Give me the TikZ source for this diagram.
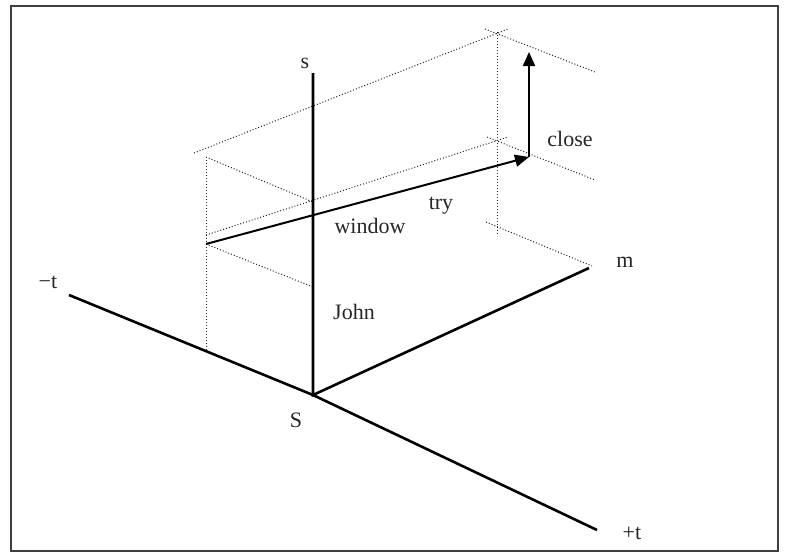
\documentclass[tikz,border=0pt]{standalone}
\usepackage{fontspec}
\setmainfont{Liberation Serif}
\usetikzlibrary{arrows.meta}
\begin{document}
\begin{tikzpicture}[x=1pt,y=-1pt,
  axisline/.style={line width=2.6pt, line join=miter},
  guide/.style={line width=1pt, dash pattern=on 1pt off 2pt, black!85},
  move/.style={line width=2pt, -{Triangle[length=14pt,width=12pt]}},
  lbl/.style={font=\fontsize{22}{26}\selectfont, inner sep=0pt, text=black!85}]
\useasboundingbox (0,0) rectangle (803,557);
\draw[line width=1.5pt, black!75] (11,6) rectangle (778,551);
% axes
\coordinate (S) at (313,395);
\coordinate (sTop) at (313,73);
\coordinate (mEnd) at (589,268);
\coordinate (tNeg) at (69,295);
\coordinate (tPos) at (597,530);
% guide points
\coordinate (bl) at (206,351);
\coordinate (bt) at (206,157);
\coordinate (bm) at (206,235);
\coordinate (A) at (206,244);
\coordinate (s1) at (313,202);
\coordinate (s2) at (313,287);
\coordinate (u0) at (194,153);
\coordinate (u1) at (508,29);
\coordinate (m1) at (508,137);
\coordinate (rT) at (497,32);
\coordinate (rB) at (497,236);
\coordinate (r1a) at (485,29);
\coordinate (r1b) at (595,72);
\coordinate (r2a) at (487,137);
\coordinate (r2b) at (595,180);
\coordinate (r3a) at (486,222);
\coordinate (r3b) at (592,266);
\coordinate (B) at (529,157);
\coordinate (C) at (529,52);
% dotted guides
\draw[guide] (bt) -- (bl);
\draw[guide] (bt) -- (s1);
\draw[guide] (u0) -- (u1);
\draw[guide] (bm) -- (m1);
\draw[guide] (A) -- (s2);
\draw[guide] (rT) -- (rB);
\draw[guide] (r1a) -- (r1b);
\draw[guide] (r2a) -- (r2b);
\draw[guide] (r3a) -- (r3b);
% axes
\draw[axisline] (tNeg) -- (S) -- (tPos);
\draw[axisline] (sTop) -- (S) -- (mEnd);
% moves
\draw[move] (A) -- (B);
\draw[move] (B) -- (C);
% labels
\node[lbl] (ls) at (305,63) {s};
\node[lbl] (lclose) at (570,139) {close};
\node[lbl] (ltry) at (441,206) {try};
\node[lbl] (lwindow) at (370,226) {window};
\node[lbl] (lJohn) at (354,312) {John};
\node[lbl] (lS) at (296,420) {S};
\node[lbl] (ltneg) at (48,282) {−t};
\node[lbl] (lm) at (625,262) {m};
\node[lbl] (ltpos) at (632,533) {+t};
\end{tikzpicture}
\end{document}
